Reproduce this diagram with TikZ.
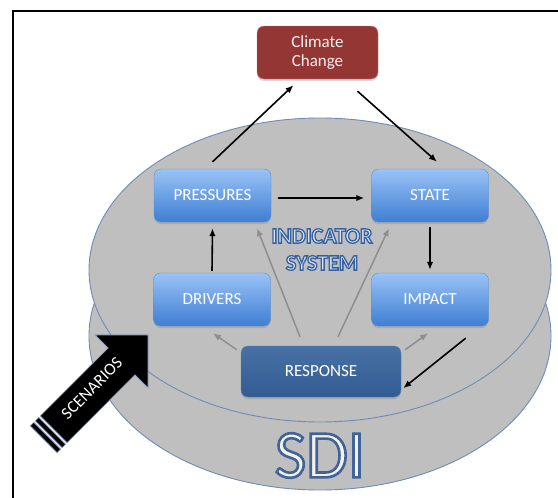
\documentclass[tikz,border=0pt]{standalone}
\usepackage{fontspec}
\setmainfont{Carlito}
\usetikzlibrary{arrows.meta,shadows}

\definecolor{ovalgray}{HTML}{BFBFBF}
\definecolor{ovalline}{HTML}{6F8CB6}
\definecolor{boxtop}{HTML}{99C3F6}
\definecolor{boxbottom}{HTML}{3F7ED2}
\definecolor{boxline}{HTML}{5F8FCB}
\definecolor{respblue}{HTML}{34619A}
\definecolor{climred}{HTML}{943634}
\definecolor{lavender}{HTML}{DDE5F4}
\definecolor{cream}{HTML}{F4F2E6}
\definecolor{scenline}{HTML}{8FA8C6}
\definecolor{greyarrow}{HTML}{8E8E8E}

% outlined text (fill = current colour, stroke = given width and rgb)
\newcommand\outlined[3]{\special{pdf:literal direct q 2 Tr #1 w #2 RG}#3\special{pdf:literal direct Q}}

\begin{document}
\begin{tikzpicture}[x=1pt,y=-1pt,every path/.style={>={Latex[length=8pt,width=6.5pt]}},
		disc/.style={fill=ovalgray,draw=ovalline,line width=0.9pt},
		dpsir/.style={rounded corners=7pt,minimum width=117pt,minimum height=53pt,top color=boxtop,bottom color=boxbottom,draw=boxline,text=white,font=\fontsize{17}{19}\selectfont,drop shadow={shadow xshift=0pt,shadow yshift=-2pt,opacity=0.3}},
		respbox/.style={dpsir,minimum width=160pt,minimum height=51pt,top color=respblue!90!white,bottom color=respblue!95!black,draw=respblue!80!white},
		climbox/.style={dpsir,minimum width=121pt,minimum height=53pt,top color=climred,bottom color=climred,draw=climred!60!white,text=white!92!climred,align=center,font=\fontsize{17}{18.5}\selectfont},
		causal/.style={line width=1.6pt,black},
		feedback/.style={line width=1.5pt,greyarrow},
		scenarrow/.style={fill=black,draw=scenline,line width=0.8pt}]
		\useasboundingbox (0,0) rectangle (558,498);
	
		% draw frame
		\draw[line width=1.4pt] (560,11) -- (13,11) -- (13,500);
	
		% draw the two discs
		\draw[disc] (320,336) ellipse [x radius=231,y radius=154];
		\draw[disc] (320,270) ellipse [x radius=231,y radius=152];
	
		% draw boxes
		\node[climbox] (clim) at (317.5,52.5) {Climate\\Change};
		\node[dpsir] (pres) at (212.5,195.5) {PRESSURES};
		\node[dpsir] (stat) at (430,195.5) {STATE};
		\node[dpsir] (driv) at (212,299.5) {DRIVERS};
		\node[dpsir] (impa) at (430,299.5) {IMPACT};
		\node[respbox] (resp) at (321,371.5) {RESPONSE};
	
		% draw black arrows
		\draw[->,causal] ([yshift=7pt]pres.north) -- ([xshift=-24pt,yshift=-6pt]clim.south);
		\draw[->,causal] ([xshift=40pt,yshift=-12pt]clim.south) -- ([xshift=7pt,yshift=7pt]stat.north);
		\draw[->,causal] ([xshift=7pt,yshift=-2.5pt]pres.east) -- ([xshift=-7pt,yshift=-2.5pt]stat.west);
		\draw[->,causal] ([yshift=2pt]driv.north) -- ([yshift=-6pt]pres.south);
		\draw[->,causal] ([yshift=-5pt]stat.south) -- ([yshift=3pt]impa.north);
		\draw[->,causal] ([xshift=-23pt,yshift=-12pt]impa.south east) -- ([xshift=2pt,yshift=9pt]resp.south east);
	
		% draw grey arrows
		\draw[->,feedback] ([xshift=-21pt,yshift=9pt]resp.north) -- ([xshift=44.5pt,yshift=-6pt]pres.south);
		\draw[->,feedback] ([xshift=17pt,yshift=9pt]resp.north) -- ([xshift=-41pt,yshift=-6pt]stat.south);
		\draw[->,feedback] ([xshift=-4pt,yshift=-4pt]resp.north west) -- ([xshift=1pt,yshift=-7pt]driv.south);
		\draw[->,feedback] ([xshift=4pt,yshift=-4pt]resp.north east) -- ([xshift=-2pt,yshift=-7pt]impa.south);
	
		% draw scenarios arrow
		\begin{scope}[shift={(121.5,361.5)},rotate=45]
			\draw[scenarrow] (-96,-19) -- (0,-19) -- (0,-37.5) -- (37.5,0) -- (0,37.5) -- (0,19) -- (-96,19) -- cycle;
			\draw[scenarrow] (-103,-19) rectangle (-98,19);
			\draw[scenarrow] (-110,-19) rectangle (-105,19);
			\node[transform shape,text=white,font=\fontsize{17}{19}\selectfont] (scen) at (-40,-2) {SCENARIOS};
		\end{scope}
	
		% draw text nodes
		\node[text=lavender,align=center,font=\bfseries\fontsize{22}{27}\selectfont] (indsys) at (322,249.5) {\outlined{1.3}{0.21 0.38 0.62}{INDICATOR}\\\outlined{1.3}{0.21 0.38 0.62}{SYSTEM}};
		\node[text=cream,font=\fontsize{68}{70}\selectfont] (sdi) at (320,455.5) {\outlined{2.6}{0.25 0.39 0.60}{SDI}};
	\end{tikzpicture}
\end{document}
